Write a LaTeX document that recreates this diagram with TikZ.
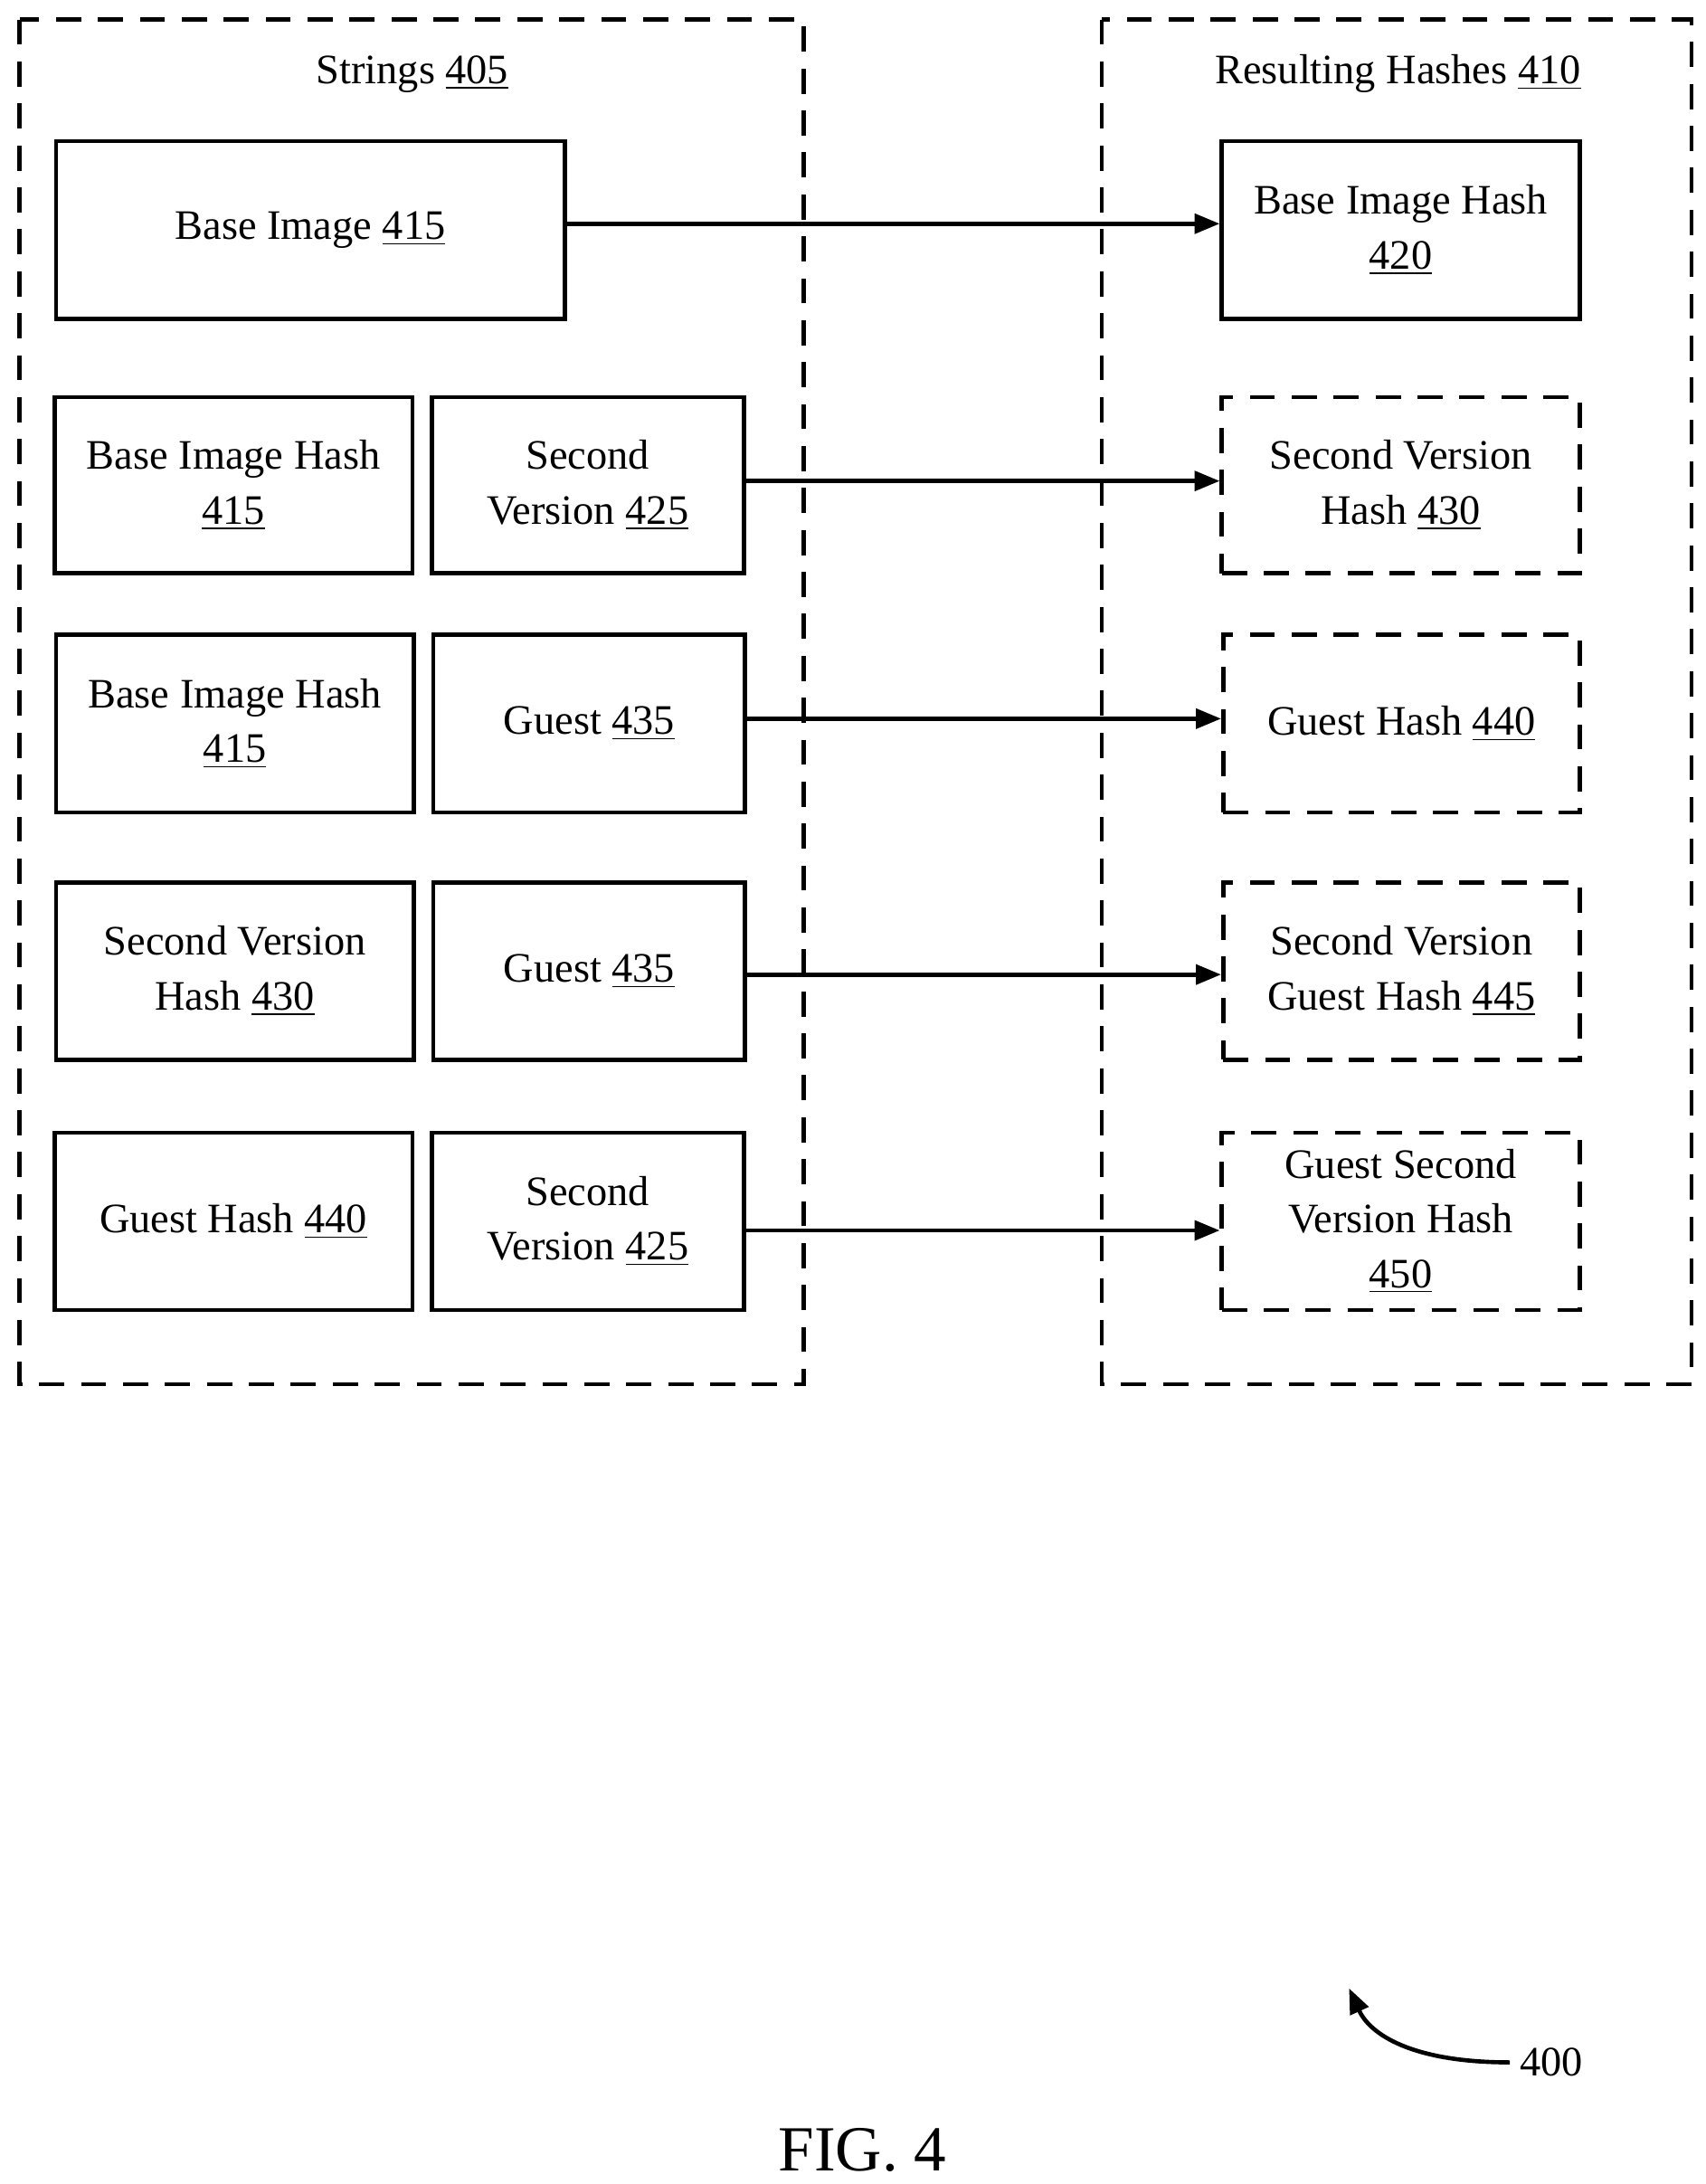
\documentclass[tikz,border=0pt]{standalone}
\usepackage{fontspec}
\setmainfont{Liberation Serif}
\usetikzlibrary{arrows.meta}
\newcommand{\un}[1]{\underline{#1}}
\begin{document}
\begin{tikzpicture}[x=0.5pt,y=-0.5pt,
  box/.style={draw,line width=1.5pt,align=center,font=\fontsize{15}{19.5}\selectfont,inner sep=0pt},
  dbox/.style={box,dash pattern=on 9pt off 6pt},
  grp/.style={draw,line width=1.5pt,dash pattern=on 9pt off 6pt},
  arr/.style={-{Triangle[length=9pt,width=7pt]},line width=1.5pt},
  lbl/.style={font=\fontsize{15}{19.5}\selectfont}]
\useasboundingbox (0,0) rectangle (1220,1562);
\draw[grp] (14,14) rectangle (575,990);
\draw[grp] (788,14) rectangle (1210,990);
\node[lbl] (t1) at (295,53) {Strings \un{405}};
\node[lbl] (t2) at (1000,53) {Resulting Hashes \un{410}};
\newcommand{\bx}[6]{\node[#1,minimum width={(#4-#2)*0.5pt},minimum height={(#5-#3)*0.5pt}] (#6) at ({(#2+#4)/2},{(#3+#5)/2})}
\bx{box}{40}{101}{404}{228}{a} {Base Image \un{415}};
\bx{box}{39}{284}{295}{410}{b1} {Base Image Hash\\\un{415}};
\bx{box}{309}{284}{532}{410}{b2} {Second\\Version \un{425}};
\bx{box}{40}{454}{296}{581}{c1} {Base Image Hash\\\un{415}};
\bx{box}{310}{454}{533}{581}{c2} {Guest \un{435}};
\bx{box}{40}{631}{296}{758}{d1} {Second Version\\Hash \un{430}};
\bx{box}{310}{631}{533}{758}{d2} {Guest \un{435}};
\bx{box}{39}{810}{295}{937}{e1} {Guest Hash \un{440}};
\bx{box}{309}{810}{532}{937}{e2} {Second\\Version \un{425}};
\bx{box}{874}{101}{1130}{228}{ra} {Base Image Hash\\\un{420}};
\bx{dbox}{874}{284}{1130}{410}{rb} {Second Version\\Hash \un{430}};
\bx{dbox}{875}{454}{1130}{581}{rc} {Guest Hash \un{440}};
\bx{dbox}{875}{631}{1130}{758}{rd} {Second Version\\Guest Hash \un{445}};
\bx{dbox}{874}{810}{1130}{937}{re} {Guest Second\\Version Hash\\\un{450}};
\draw[arr] (a.east |- 0,160) -- (ra.west |- 0,160);
\draw[arr] (b2.east |- 0,344) -- (rb.west |- 0,344);
\draw[arr] (c2.east |- 0,514) -- (rc.west |- 0,514);
\draw[arr] (d2.east |- 0,697) -- (rd.west |- 0,697);
\draw[arr] (e2.east |- 0,880) -- (re.west |- 0,880);
\node[lbl,anchor=west] (n400) at (1080,1475) {400};
\coordinate (c400) at (965,1422);
\draw[arr] (n400.west) .. controls (1010,1475) and (980,1455) .. (c400);
\node[font=\fontsize{23}{28}\selectfont] (fig) at (617,1538) {FIG. 4};
\end{tikzpicture}
\end{document}
